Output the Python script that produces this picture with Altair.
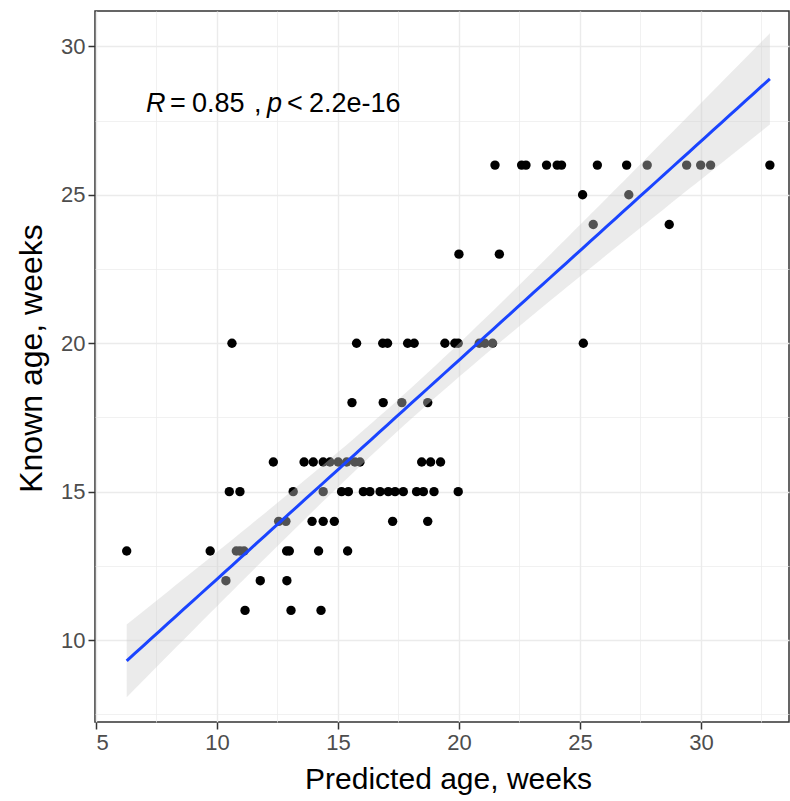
import altair as alt
import numpy as np
import pandas as pd

# ---- data (predicted age vs known age, weeks) ----
known_26 = [21.49, 22.59, 22.77, 23.62, 24.06, 24.24, 25.72, 26.93, 27.78, 29.41, 29.99, 30.40, 32.85]
known_25 = [25.11, 27.02]
known_24 = [25.55, 28.69]
known_23 = [20.0, 21.67]
known_20 = [10.62, 15.77, 16.85, 17.05, 17.88, 18.15, 19.42, 19.83, 19.97, 20.84, 21.07, 21.39, 25.14]
known_18 = [15.58, 16.87, 17.64, 18.71]
known_16 = [12.33, 13.6, 13.98, 14.39, 14.67, 15.01, 15.36, 15.7, 15.91, 18.46, 18.83, 19.24]
known_15 = [10.51, 10.95, 13.15, 14.39, 15.15, 15.43, 16.05, 16.32, 16.74, 17.08, 17.36, 17.7,
            18.25, 18.53, 18.97, 19.97]
known_14 = [12.55, 12.85, 13.93, 14.39, 14.85, 17.26, 18.71]
known_13 = [6.27, 9.72, 10.8, 10.95, 11.12, 12.88, 12.99, 14.2, 15.4]
known_12 = [10.37, 11.79, 12.89]
known_11 = [11.16, 13.06, 14.3]

groups = {26: known_26, 25: known_25, 24: known_24, 23: known_23, 20: known_20, 18: known_18,
          16: known_16, 15: known_15, 14: known_14, 13: known_13, 12: known_12, 11: known_11}

predicted = []
known = []
for k, xs in groups.items():
    predicted += xs
    known += [k] * len(xs)

x_ticks = [5, 7.5, 10, 12.5, 15, 17.5, 20, 22.5, 25, 27.5, 30, 32.5]
y_ticks = [7.5, 10, 12.5, 15, 17.5, 20, 22.5, 25, 27.5, 30]
annot_tokens = ["R", "=", "0.85", ",", "p", "<", "2.2e-16"]
annot_italic = [True, False, False, False, True, False, False]
annot_dx = [0, 24, 46, 108, 121, 141, 163]

pts = pd.DataFrame({"pred": predicted, "known": known})

# ---- linear fit with 95% confidence band (as geom_smooth(method = "lm")) ----
x = np.array(predicted, dtype=float)
y = np.array(known, dtype=float)
n = len(x)
xbar, ybar = x.mean(), y.mean()
sxx = ((x - xbar) ** 2).sum()
b1 = ((x - xbar) * (y - ybar)).sum() / sxx
b0 = ybar - b1 * xbar
s = np.sqrt(((y - (b0 + b1 * x)) ** 2).sum() / (n - 2))
df_ = n - 2
z = 1.959964
tq = z + (z ** 3 + z) / (4 * df_) + (5 * z ** 5 + 16 * z ** 3 + 3 * z) / (96 * df_ ** 2)
grid = np.linspace(x.min(), x.max(), 80)
fit = b0 + b1 * grid
se = s * np.sqrt(1.0 / n + (grid - xbar) ** 2 / sxx)
band = pd.DataFrame({"pred": grid, "fit": fit, "lo": fit - tq * se, "hi": fit + tq * se})

FONT = "Liberation Sans"
xdom = [4.96, 33.64]
ydom = [7.24, 31.19]

xscale = alt.Scale(domain=xdom, nice=False, zero=False)
yscale = alt.Scale(domain=ydom, nice=False, zero=False)

major_test = "abs(datum.value % 5) < 0.001"

x_axis = alt.Axis(
    values=x_ticks,
    labelExpr=f"{major_test} ? datum.label : ''",
    title="Predicted age, weeks",
    gridWidth={"condition": {"test": major_test, "value": 1.4}, "value": 0.7},
    tickOpacity={"condition": {"test": major_test, "value": 1}, "value": 0},
    titleX=353, titleY=66, titleBaseline="alphabetic", titleAnchor="middle",
    titleFontSize=30,
)
y_axis = alt.Axis(
    values=y_ticks,
    labelExpr=f"{major_test} ? datum.label : ''",
    title="Known age, weeks",
    gridWidth={"condition": {"test": major_test, "value": 1.4}, "value": 0.7},
    tickOpacity={"condition": {"test": major_test, "value": 1}, "value": 0},
    titleX=-54, titleY=347, titleBaseline="alphabetic", titleAnchor="middle", titleAngle=270,
    titleFontSize=32,
)

points = alt.Chart(pts).mark_circle(size=88, color="black", opacity=1).encode(
    x=alt.X("pred:Q", scale=xscale, axis=x_axis),
    y=alt.Y("known:Q", scale=yscale, axis=y_axis),
)

ribbon = alt.Chart(band).mark_area(color="#cccccc", opacity=0.4).encode(
    x=alt.X("pred:Q", scale=xscale),
    y=alt.Y("lo:Q", scale=yscale),
    y2="hi:Q",
)

line = alt.Chart(band).mark_line(color="#1a44ff", strokeWidth=3).encode(
    x=alt.X("pred:Q", scale=xscale),
    y=alt.Y("fit:Q", scale=yscale),
)

anchor = pd.DataFrame({"pred": [7.07], "known": [27.8]})
texts = []
for tok, it, dx in zip(annot_tokens, annot_italic, annot_dx):
    texts.append(
        alt.Chart(anchor).mark_text(
            text=tok, align="left", baseline="alphabetic", dx=dx, font=FONT,
            fontSize=27, fontStyle="italic" if it else "normal", color="black",
        ).encode(x=alt.X("pred:Q", scale=xscale), y=alt.Y("known:Q", scale=yscale))
    )

chart = alt.layer(points, ribbon, line, *texts).properties(
    width=694, height=711,
    padding={"left": 95, "top": 11, "right": 1, "bottom": 79},
    autosize=alt.AutoSizeParams(type="none"),
    background="white",
).configure_view(
    stroke="#333333", strokeWidth=1.5,
).configure_axis(
    domain=False,
    grid=True, gridColor="#ebebeb",
    tickColor="#333333", tickSize=7, tickWidth=1.5,
    labelColor="#4d4d4d", labelFont=FONT, labelFontSize=22, labelPadding=3,
    titleFont=FONT, titleFontWeight="normal", titleColor="black",
)

chart.save("out.html", embed_options={"renderer": "svg", "actions": False})
